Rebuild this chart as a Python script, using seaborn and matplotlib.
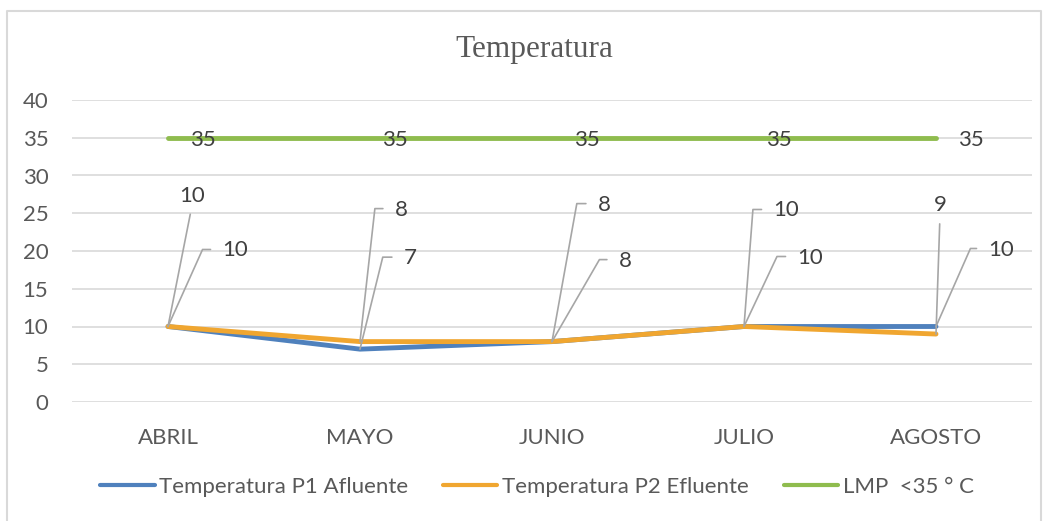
import numpy as np
import pandas as pd
import matplotlib
matplotlib.use("Agg")
import matplotlib.pyplot as plt
from matplotlib.lines import Line2D
import seaborn as sns

# Chart data
meses = ["ABRIL", "MAYO", "JUNIO", "JULIO", "AGOSTO"]
p1_afluente = [10, 7, 8, 10, 10]
p2_efluente = [10, 8, 8, 10, 9]
lmp = [35, 35, 35, 35, 35]
series_names = ["Temperatura P1 Afluente", "Temperatura P2 Efluente", "LMP  <35 ° C"]
y_ticks = [0, 5, 10, 15, 20, 25, 30, 35, 40]

# Label layout (pixel offsets from each point: label centre, leader corner)
upper_off = [(24, 131), (41, 132), (52, 137), (42, 116), (4, 129)]
upper_corner = [None, (15, 134), (25, 139), (9, 118), None]
lower_off = [(67, 76), (50, 91), (73, 81), (66, 69), (65, 77)]
lower_corner = [(35, 78), (23, 93), (48, 83), (33, 70), (34, 77)]

colors = ["#4F81BD", "#F0A630", "#8FBC4E"]
text_gray = "#595959"
label_gray = "#404040"
leader_gray = "#A6A6A6"
fs = 16

sns.set_theme(style="white")
plt.rcParams["font.family"] = ["Lato", "DejaVu Sans"]

df = pd.DataFrame({
    "mes": meses * 3,
    "valor": p1_afluente + p2_efluente + lmp,
    "serie": [series_names[0]] * 5 + [series_names[1]] * 5 + [series_names[2]] * 5,
})

fig = plt.figure(figsize=(10.48, 5.21), dpi=100)
ax = fig.add_axes([72 / 1048, 1 - 402 / 521, 960 / 1048, 302 / 521])

sns.lineplot(data=df, x="mes", y="valor", hue="serie", hue_order=series_names,
             palette=colors, linewidth=3.5, ax=ax, legend=False,
             solid_capstyle="round", solid_joinstyle="round", sort=False)

ax.set_xlim(-0.5, 4.5)
ax.set_ylim(0, 40)
ax.set_yticks(y_ticks)
ax.set_xlabel("")
ax.set_ylabel("")
for s in ax.spines.values():
    s.set_visible(False)
ax.yaxis.grid(True, color="#D9D9D9", linewidth=1.2)
ax.xaxis.grid(False)
ax.set_axisbelow(True)
ax.tick_params(axis="both", length=0, labelsize=fs, labelcolor=text_gray)
ax.tick_params(axis="x", pad=19)
ax.tick_params(axis="y", pad=17)


def label_point(x, y, txt, off, corner):
    if corner is None:
        ax.annotate(txt, (x, y), xytext=off, textcoords="offset pixels",
                    ha="center", va="center", fontsize=fs, color=label_gray,
                    arrowprops=dict(arrowstyle="-", color=leader_gray, lw=1.2,
                                    relpos=(0.5, 0.0), shrinkA=4, shrinkB=0))
    else:
        ang = np.degrees(np.arctan2(corner[1], corner[0]))
        ax.annotate(txt, (x, y), xytext=off, textcoords="offset pixels",
                    ha="center", va="center", fontsize=fs, color=label_gray,
                    arrowprops=dict(arrowstyle="-", color=leader_gray, lw=1.2,
                                    relpos=(0.0, 0.55), shrinkA=6, shrinkB=0,
                                    connectionstyle=f"angle,angleA=0,angleB={ang},rad=0"))


for i in range(len(meses)):
    label_point(i, p2_efluente[i], str(p2_efluente[i]), upper_off[i], upper_corner[i])
    label_point(i, p1_afluente[i], str(p1_afluente[i]), lower_off[i], lower_corner[i])
    ax.annotate(str(lmp[i]), (i, lmp[i]), xytext=(22, -2), textcoords="offset pixels",
                ha="left", va="center", fontsize=fs, color=label_gray)

# Title
fig.text(534 / 1048, 1 - 50 / 521, "Temperatura", ha="center", va="center",
         family="Liberation Serif", fontsize=22.5, color=text_gray)

# Legend
handles = [Line2D([0], [0], color=c, lw=3, solid_capstyle="round") for c in colors]
leg = fig.legend(handles, series_names, loc="center", ncol=3, frameon=False,
                 bbox_to_anchor=(537 / 1048, 1 - 487 / 521), fontsize=fs,
                 handlelength=2.45, handletextpad=0.22, columnspacing=1.55)
for t in leg.get_texts():
    t.set_color(text_gray)

# Chart area border
fig.add_artist(Line2D([7 / 1048, 7 / 1048, 1041 / 1048, 1041 / 1048],
                      [0, 1 - 11 / 521, 1 - 11 / 521, 0],
                      transform=fig.transFigure, color="#D9D9D9", lw=1.5))

fig.savefig("out.png", dpi=100)
